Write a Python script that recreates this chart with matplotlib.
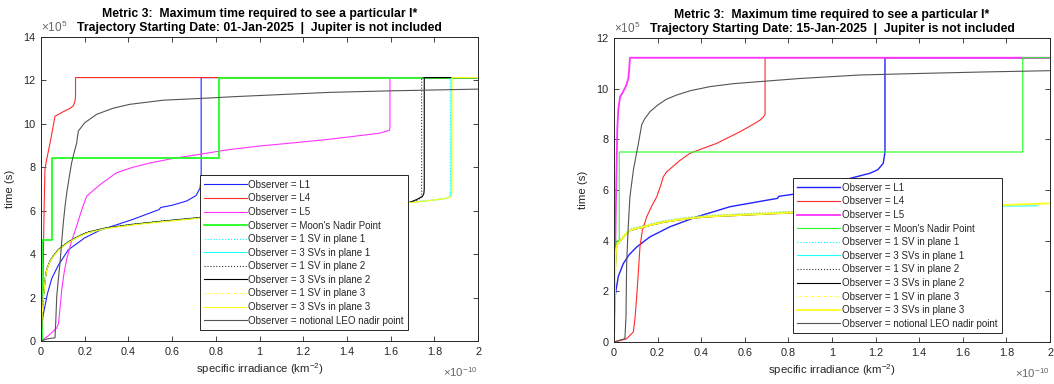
import matplotlib
matplotlib.use("Agg")
import matplotlib.pyplot as plt
import numpy as np

plt.rcParams['font.family'] = ['Liberation Sans', 'DejaVu Sans']
plt.rcParams['mathtext.fontset'] = 'custom'
plt.rcParams['mathtext.rm'] = 'Liberation Sans'
plt.rcParams['mathtext.it'] = 'Liberation Sans:italic'
plt.rcParams['mathtext.bf'] = 'Liberation Sans:bold'

# Units: x in 1e-10 km^-2, y in 1e5 s
labels = ["Observer = L1", "Observer = L4", "Observer = L5", "Observer = Moon's Nadir Point",
          "Observer = 1 SV in plane 1", "Observer = 3 SVs in plane 1",
          "Observer = 1 SV in plane 2", "Observer = 3 SVs in plane 2",
          "Observer = 1 SV in plane 3", "Observer = 3 SVs in plane 3",
          "Observer = notional LEO nadir point"]

titles = ["Metric 3:  Maximum time required to see a particular I*\nTrajectory Starting Date: 01-Jan-2025  |  Jupiter is not included",
          "Metric 3:  Maximum time required to see a particular I*\nTrajectory Starting Date: 15-Jan-2025  |  Jupiter is not included"]

# ---------------- Left chart (01-Jan-2025) ----------------
A_L1_x = [0, 0.01, 0.03, 0.05, 0.08, 0.125, 0.2, 0.27, 0.42, 0.54, 0.548, 0.6, 0.667, 0.71, 0.728, 0.733, 0.733, 2.0]
A_L1_y = [0.4, 1.2, 2.2, 2.9, 3.5, 4.2, 4.75, 5.1, 5.6, 6.05, 6.15, 6.25, 6.45, 6.7, 7.05, 7.6, 12.13, 12.13]
A_L4_x = [0, 0.004, 0.008, 0.011, 0.014, 0.018, 0.026, 0.045, 0.064, 0.1, 0.13, 0.148, 0.156, 0.158, 0.158, 2.0]
A_L4_y = [0, 1.0, 2.0, 4.0, 6.0, 7.9, 8.36, 9.3, 10.35, 10.55, 10.7, 10.83, 11.06, 11.3, 12.13, 12.13]
A_L5_x = [0, 0.035, 0.072, 0.08, 0.088, 0.095, 0.105, 0.117, 0.14, 0.163, 0.185, 0.209, 0.27, 0.346, 0.42, 0.5, 0.6,
          0.728, 0.85, 1.0, 1.15, 1.32, 1.55, 1.594, 1.597, 1.597, 2.0]
A_L5_y = [0, 0.25, 0.6, 0.8, 1.6, 2.36, 3.1, 3.74, 4.6, 5.28, 6.0, 6.67, 7.2, 7.75, 8.0, 8.2, 8.4,
          8.6, 8.8, 8.98, 9.12, 9.29, 9.57, 9.7, 9.8, 12.13, 12.13]
A_MOON_x = [0, 0.003, 0.003, 0.052, 0.052, 0.815, 0.815, 2.0]
A_MOON_y = [0, 0, 4.65, 4.65, 8.44, 8.44, 12.13, 12.13]
A_SV_x = [0, 0.004, 0.011, 0.02, 0.026, 0.04, 0.056, 0.08, 0.118, 0.16, 0.209, 0.3, 0.422, 0.55, 0.728,
          0.9, 1.1, 1.3, 1.5, 1.6, 1.69]
A_SV_y = [0, 1.0, 2.05, 2.9, 3.28, 3.65, 3.9, 4.2, 4.5, 4.75, 4.98, 5.2, 5.36, 5.5, 5.67,
          5.8, 5.95, 6.1, 6.25, 6.33, 6.38]
A_SV1_end_x = [1.8, 1.86, 1.871, 1.873, 1.873, 2.0]
A_SV1_end_y = [6.48, 6.56, 6.65, 6.9, 12.13, 12.13]
A_SV3_1_end_x = [1.8, 1.86, 1.875, 1.877, 1.877, 2.0]
A_SV3_1_end_y = [6.5, 6.58, 6.67, 6.9, 12.13, 12.13]
A_SV2_end_x = [1.72, 1.74, 1.742, 1.742, 2.0]
A_SV2_end_y = [6.48, 6.6, 6.8, 12.13, 12.13]
A_SV3_2_end_x = [1.72, 1.745, 1.752, 1.754, 1.754, 2.0]
A_SV3_2_end_y = [6.52, 6.65, 6.78, 7.0, 12.13, 12.13]
A_SV1_3_end_x = [1.8, 1.86, 1.878, 1.88, 1.88, 2.0]
A_SV1_3_end_y = [6.49, 6.57, 6.66, 6.9, 12.13, 12.13]
A_SV3_3_end_x = [1.8, 1.86, 1.879, 1.881, 1.881, 2.0]
A_SV3_3_end_y = [6.5, 6.58, 6.67, 6.9, 12.13, 12.13]
A_LEO_x = [0, 0.03, 0.064, 0.068, 0.072, 0.08, 0.087, 0.095, 0.102, 0.11, 0.118, 0.13, 0.14, 0.152, 0.163,
           0.167, 0.171, 0.2, 0.255, 0.33, 0.407, 0.56, 0.728, 0.9, 1.1, 1.32, 1.597, 1.8, 2.0]
A_LEO_y = [0, 0.1, 0.15, 1.0, 2.05, 2.9, 3.6, 4.6, 5.44, 6.2, 6.83, 7.6, 8.2, 8.7, 9.1,
           9.4, 9.67, 10.05, 10.44, 10.72, 10.9, 11.09, 11.17, 11.26, 11.35, 11.45, 11.52, 11.56, 11.6]

# ---------------- Right chart (15-Jan-2025) ----------------
B_L1_x = [0, 0.004, 0.009, 0.02, 0.043, 0.07, 0.104, 0.165, 0.257, 0.379, 0.532, 0.67, 0.75, 0.756, 0.853,
          0.95, 1.052, 1.174, 1.21, 1.235, 1.243, 1.243, 2.0]
B_L1_y = [1.4, 1.7, 2.04, 2.6, 3.1, 3.45, 3.75, 4.15, 4.55, 4.94, 5.34, 5.55, 5.67, 5.75, 5.87,
          6.1, 6.39, 6.66, 6.8, 7.05, 7.5, 11.22, 11.22]
B_L4_x = [0, 0.03, 0.058, 0.089, 0.097, 0.104, 0.112, 0.119, 0.13, 0.15, 0.175, 0.196, 0.215, 0.226, 0.242,
          0.3, 0.349, 0.42, 0.471, 0.578, 0.64, 0.67, 0.685, 0.693, 0.693, 2.0]
B_L4_y = [0, 0.06, 0.13, 0.4, 1.0, 1.78, 2.8, 3.75, 4.4, 4.94, 5.4, 5.73, 6.2, 6.52, 6.72,
          7.15, 7.45, 7.68, 7.84, 8.3, 8.6, 8.76, 8.88, 9.0, 11.22, 11.22]
B_L5_x = [0, 0.004, 0.008, 0.012, 0.015, 0.02, 0.028, 0.04, 0.055, 0.066, 0.07, 0.073, 2.0]
B_L5_y = [0, 2.5, 5.0, 7.0, 8.4, 9.2, 9.68, 9.85, 10.1, 10.41, 10.8, 11.22, 11.22]
B_MOON_x = [0, 0.004, 0.009, 0.015, 0.024, 0.024, 1.875, 1.875, 2.0]
B_MOON_y = [0, 2.5, 3.62, 4.0, 4.0, 7.5, 7.5, 11.22, 11.22]
B_SV_x = [0, 0.003, 0.006, 0.009, 0.015, 0.028, 0.05, 0.073, 0.1, 0.135, 0.18, 0.226, 0.3, 0.379, 0.45,
          0.532, 0.7, 0.884, 1.1, 1.3, 1.5]
B_SV_y = [0, 1.5, 2.8, 3.62, 3.85, 4.0, 4.22, 4.41, 4.48, 4.55, 4.65, 4.74, 4.84, 4.92, 4.97,
          5.0, 5.07, 5.14, 5.2, 5.26, 5.32]
B_SV1_end_x = [1.7, 1.9, 1.97]
B_SV1_end_y = [5.38, 5.43, 5.45]
B_SV3_1_end_x = [1.7, 1.9, 1.94]
B_SV3_1_end_y = [5.36, 5.37, 5.38]
B_SV1_3_end_x = [1.7, 1.9, 2.0]
B_SV1_3_end_y = [5.39, 5.45, 5.48]
B_SV3_3_end_x = [1.7, 1.9, 2.0]
B_SV3_3_end_y = [5.38, 5.44, 5.47]
B_LEO_x = [0, 0.03, 0.05, 0.055, 0.058, 0.065, 0.073, 0.089, 0.1, 0.112, 0.127, 0.14, 0.165, 0.2, 0.24,
           0.288, 0.35, 0.44, 0.55, 0.67, 0.85, 1.128, 1.4, 1.7, 2.0]
B_LEO_y = [0, 0.08, 0.13, 1.0, 3.1, 4.5, 5.73, 6.79, 7.3, 7.84, 8.57, 8.8, 9.09, 9.35, 9.58,
           9.75, 9.92, 10.08, 10.2, 10.28, 10.4, 10.54, 10.6, 10.66, 10.71]

GREY = (0.33, 0.33, 0.33)
colors = ['#2222ff', '#ff2a2a', '#ff33ff', '#22ff22', '#00ffff', '#22ffff',
          '#333333', '#000000', '#ffff00', '#ffff22', GREY]
styles = ['-', '-', '-', '-', ':', '-', ':', '-', ':', '-', '-']

def sv(base_x, base_y, end_x, end_y, dy=0.0):
    return list(base_x) + list(end_x), [v + dy for v in base_y] + list(end_y)

A_series = [
    (A_L1_x, A_L1_y), (A_L4_x, A_L4_y), (A_L5_x, A_L5_y), (A_MOON_x, A_MOON_y),
    sv(A_SV_x, A_SV_y, A_SV1_end_x, A_SV1_end_y, 0.03),
    sv(A_SV_x, A_SV_y, A_SV3_1_end_x, A_SV3_1_end_y),
    sv(A_SV_x, A_SV_y, A_SV2_end_x, A_SV2_end_y, 0.02),
    sv(A_SV_x, A_SV_y, A_SV3_2_end_x, A_SV3_2_end_y, 0.01),
    sv(A_SV_x, A_SV_y, A_SV1_3_end_x, A_SV1_3_end_y, -0.02),
    sv(A_SV_x, A_SV_y, A_SV3_3_end_x, A_SV3_3_end_y, -0.01),
    (A_LEO_x, A_LEO_y),
]
B_series = [
    (B_L1_x, B_L1_y), (B_L4_x, B_L4_y), (B_L5_x, B_L5_y), (B_MOON_x, B_MOON_y),
    sv(B_SV_x, B_SV_y, B_SV1_end_x, B_SV1_end_y, 0.04),
    sv(B_SV_x, B_SV_y, B_SV3_1_end_x, B_SV3_1_end_y),
    sv(B_SV_x, B_SV_y, [], [], 0.02),
    sv(B_SV_x, B_SV_y, [1.6], [5.33], -0.02),
    sv(B_SV_x, B_SV_y, B_SV1_3_end_x, B_SV1_3_end_y, 0.03),
    sv(B_SV_x, B_SV_y, B_SV3_3_end_x, B_SV3_3_end_y, -0.01),
    (B_LEO_x, B_LEO_y),
]
A_lw = [0.8, 0.8, 0.8, 1.3, 0.8, 0.8, 0.8, 0.8, 0.8, 0.8, 0.8]
B_lw = [1.0, 0.8, 1.3, 0.8, 0.8, 0.8, 0.8, 0.8, 0.8, 1.3, 0.8]

fig = plt.figure(figsize=(10.54, 3.84), dpi=100)
W, H = 1054, 384
TXT = (0.15, 0.15, 0.15)

def make_axes(rect_px, series, lws, ymax, title, leg_anchor):
    x0, y0, x1, y1 = rect_px
    ax = fig.add_axes([x0 / W, 1 - y1 / H, (x1 - x0) / W, (y1 - y0) / H])
    for (xs, ys), c, ls, lw, lab in zip(series, colors, styles, lws, labels):
        ax.plot(xs, ys, color=c, linestyle=ls, linewidth=lw, label=lab)
    ax.set_xlim(0, 2)
    ax.set_ylim(0, ymax)
    ax.set_xticks(np.arange(0, 2.01, 0.2))
    ax.set_xticklabels(['%g' % round(v, 1) for v in np.arange(0, 2.01, 0.2)])
    ax.set_yticks(np.arange(0, ymax + 0.1, 2))
    ax.set_yticklabels(['%g' % v for v in np.arange(0, ymax + 0.1, 2)])
    ax.tick_params(direction='in', top=True, right=True, length=3.5, width=0.6,
                   labelsize=7.8, colors=TXT, pad=4)
    for s in ax.spines.values():
        s.set_color(TXT)
        s.set_linewidth(0.7)
    ax.set_xlabel('specific irradiance (km$^{-2}$)', fontsize=8.2, color=TXT, labelpad=3)
    ax.set_ylabel('time (s)', fontsize=8.2, color=TXT, labelpad=6)
    ax.set_title(title, fontsize=8.8, fontweight='bold', pad=4, linespacing=1.3)
    ax.text(0, 1.006, r'$\times\mathdefault{10^{5}}$', transform=ax.transAxes,
            fontsize=8.5, color=(0.4, 0.4, 0.4), ha='left', va='bottom')
    ax.text(1, -0.078, r'$\times\mathdefault{10^{-10}}$', transform=ax.transAxes,
            fontsize=8.2, color=(0.4, 0.4, 0.4), ha='right', va='top')
    leg = ax.legend(loc='lower right', bbox_to_anchor=leg_anchor, fontsize=7,
                    frameon=True, fancybox=False, framealpha=1, edgecolor=TXT,
                    handlelength=4.4, handletextpad=0.15, labelspacing=0.37,
                    borderpad=0.45, borderaxespad=0, labelcolor=TXT)
    leg.get_frame().set_linewidth(0.7)
    return ax

make_axes((41, 37, 478, 341), A_series, A_lw, 14, titles[0], (0.8405, 0.036))
make_axes((614, 38, 1050, 342), B_series, B_lw, 12, titles[1], (0.889, 0.029))

fig.savefig('out.png', dpi=100)
